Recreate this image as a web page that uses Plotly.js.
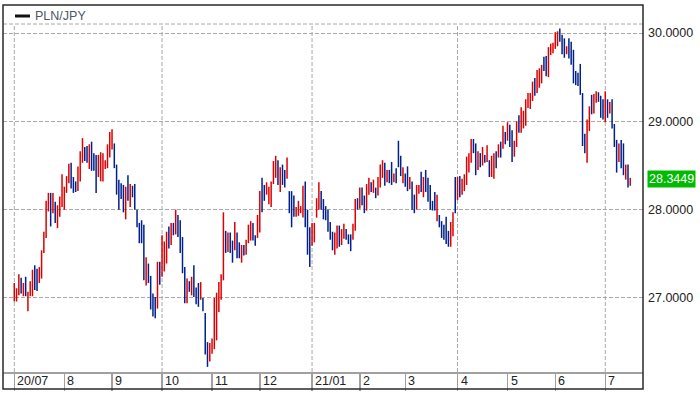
<!DOCTYPE html>
<html><head><meta charset="utf-8">
<script src="https://cdn.plot.ly/plotly-3.0.1.min.js"></script>
<style>html,body{margin:0;padding:0;background:#fff}#chart{width:700px;height:395px}</style>
</head><body><div id="chart"></div>
<script>
const symbol = 'PLN/JPY';
const monthLabels = ['20/07','8','9','10','11','12','21/01','2','3','4','5','6','7'];
const gridMonthIdx = [0, 3, 6, 9, 12];
const yTicks = [27, 28, 29, 30];
const lastPrice = 28.3449;
const high = [
27.17,27.11,27.27,27.23,27.17,27.24,27.07,27.19,27.32,27.37,
27.33,27.35,27.54,27.75,28.10,28.19,28.19,28.19,28.09,28.05,
28.15,28.40,28.26,28.38,28.52,28.53,28.37,28.32,28.49,28.66,
28.81,28.71,28.72,28.74,28.77,28.64,28.62,28.62,28.65,28.64,
28.56,28.74,28.88,28.91,28.75,28.51,28.34,28.30,28.28,28.26,
28.39,28.29,28.27,28.29,28.00,27.85,27.88,27.83,27.46,27.39,
27.25,27.05,27.01,27.41,27.41,27.71,27.64,27.75,27.81,27.85,
27.85,28.00,27.94,27.88,27.69,27.35,27.22,27.19,27.24,27.37,
27.12,27.17,27.18,27.00,26.83,26.50,26.49,26.54,27.00,27.06,
27.18,27.27,27.97,27.76,27.74,27.74,27.65,27.86,27.74,27.63,
27.60,27.60,27.66,27.83,27.87,27.85,27.71,27.94,28.21,28.36,
28.28,28.31,28.26,28.32,28.55,28.61,28.56,28.48,28.51,28.45,
28.59,28.21,28.21,28.16,28.03,28.10,28.04,28.27,28.32,28.00,
27.80,27.85,27.85,28.13,28.31,28.21,28.12,28.04,28.00,27.86,
27.75,27.74,27.82,27.82,27.78,27.84,27.78,27.72,27.72,27.84,
28.12,28.13,28.25,28.25,28.16,28.29,28.36,28.31,28.34,28.25,
28.37,28.51,28.56,28.53,28.45,28.45,28.54,28.41,28.47,28.78,
28.61,28.48,28.41,28.49,28.37,28.32,28.17,28.28,28.28,28.43,
28.37,28.45,28.36,28.28,28.10,28.20,28.17,27.94,27.87,27.83,
27.92,27.76,27.86,27.97,28.37,28.37,28.38,28.35,28.40,28.60,
28.64,28.80,28.80,28.75,28.66,28.64,28.71,28.62,28.73,28.56,
28.61,28.64,28.66,28.74,28.77,28.95,28.88,28.99,28.96,28.90,
28.78,29.00,29.07,29.16,29.12,29.25,29.32,29.32,29.45,29.49,
29.58,29.60,29.64,29.73,29.74,29.84,29.88,29.89,30.01,30.02,
30.05,29.98,29.94,29.85,29.94,29.90,29.81,29.57,29.55,29.65,
29.32,28.86,29.02,29.17,29.30,29.31,29.34,29.33,29.29,29.25,
29.34,29.25,29.22,29.25,28.97,28.79,28.75,28.79,28.75,28.51,
28.51,28.36];
const low = [
26.96,26.96,27.03,27.05,27.02,27.02,26.85,27.02,27.02,27.09,
27.08,27.17,27.22,27.51,27.68,27.98,27.81,27.96,27.85,27.79,
27.92,28.03,28.00,28.19,28.30,28.24,28.19,28.20,28.21,28.32,
28.53,28.55,28.53,28.46,28.44,28.44,28.19,28.37,28.32,28.32,
28.46,28.47,28.59,28.68,28.47,28.17,28.00,28.12,27.97,27.89,
28.10,28.03,28.14,28.00,27.80,27.62,27.62,27.20,27.14,27.17,
26.87,26.79,26.77,26.88,27.15,27.24,27.30,27.39,27.56,27.60,
27.71,27.72,27.69,27.51,27.28,26.94,26.94,27.07,27.03,27.01,
26.93,26.90,26.98,26.85,26.36,26.22,26.28,26.37,26.42,26.52,
26.84,26.98,27.20,27.51,27.52,27.51,27.40,27.54,27.45,27.45,
27.40,27.48,27.49,27.62,27.65,27.65,27.59,27.68,27.74,27.97,
28.10,28.17,28.06,28.03,28.29,28.36,28.28,28.20,28.28,28.25,
28.35,27.96,27.80,27.92,27.92,27.93,27.96,27.91,27.80,27.49,
27.35,27.59,27.63,27.91,28.00,28.00,27.89,27.88,27.75,27.66,
27.54,27.49,27.56,27.58,27.60,27.67,27.66,27.61,27.53,27.66,
27.76,28.00,28.01,28.05,27.96,27.99,28.17,28.20,28.19,28.13,
28.16,28.25,28.36,28.27,28.31,28.30,28.28,28.31,28.30,28.48,
28.38,28.30,28.26,28.21,28.23,28.00,27.96,28.00,28.18,28.20,
28.14,28.20,28.09,28.00,27.99,27.99,27.87,27.80,27.68,27.66,
27.61,27.58,27.58,27.70,27.96,28.11,28.14,28.17,28.21,28.28,
28.42,28.53,28.64,28.39,28.45,28.48,28.50,28.53,28.54,28.37,
28.37,28.35,28.47,28.59,28.59,28.69,28.74,28.78,28.71,28.54,
28.60,28.71,28.87,28.87,28.92,28.95,29.15,29.14,29.23,29.29,
29.32,29.38,29.43,29.57,29.51,29.50,29.75,29.77,29.82,29.85,
29.90,29.76,29.72,29.76,29.71,29.64,29.43,29.41,29.40,29.30,
28.72,28.64,28.53,28.89,29.08,29.09,29.21,29.22,29.04,29.02,
28.99,29.04,29.09,28.92,28.71,28.42,28.54,28.47,28.39,28.34,
28.25,28.27];
// r = bar closed up (red), b = bar closed down (blue)
const direction =
'rrrbrbrrrb'+'brrrrrbrbr'+'rrrrrbbbrr'+'rbbrbbbrrr'+'rrrrbbbbbr'+
'brbbbbbbrb'+'bbbrbrrrbr'+'brbbbbrbrb'+'bbrbbbrrrr'+'rrrbrbbrbb'+
'rbrrrbbrrb'+'brrrrrbrbb'+'rbbbrrrrbb'+'brrrrbbbbb'+'brrbrrbbbr'+
'rbrbbrrbrb'+'rrrbrbbrbb'+'brbbrbbrrb'+'rbbbbbrbbb'+'bbrrbrbrrr'+
'rrbbrbrbrb'+'rrbrbrbrbb'+'rrbrrrrrrb'+'rrrbbrrrrr'+'bbbrbbbbbb'+
'bbrrbrrbbb'+'rbrbbbrbbr'+'br';

// trading days (weekdays) from 2020-07-02
const dates = [];
const d = new Date(Date.UTC(2020, 6, 2));
while (dates.length < high.length) {
  const wd = d.getUTCDay();
  if (wd !== 0 && wd !== 6) dates.push(d.toISOString().slice(0, 10));
  d.setUTCDate(d.getUTCDate() + 1);
}
const up = direction.split('').map(c => c === 'r');
const open = high.map((h, i) => up[i] ? low[i] : h);
const close = high.map((h, i) => up[i] ? h : low[i]);

const monthStarts = [];
dates.forEach((s, i) => { if (i === 0 || s.slice(0, 7) !== dates[i - 1].slice(0, 7)) monthStarts.push(s); });

const W = 700, H = 395, L = 3, R = 57, T = 24, B = 23;
const ph = H - T - B;
const FONT = 'Liberation Sans, Arial, sans-serif';
const GRID = '#a8a8a8';

const shapes = [];
gridMonthIdx.forEach(k => shapes.push({
  type: 'line', xref: 'x', yref: 'paper', x0: monthStarts[k], x1: monthStarts[k], y0: 0, y1: 1,
  line: {color: GRID, width: 1, dash: '4px,2px'}, layer: 'below'
}));
shapes.push({type: 'line', xref: 'paper', yref: 'paper', x0: 0, x1: 1, y0: 1, y1: 1,
  line: {color: GRID, width: 1, dash: '4px,2px'}, layer: 'below'});
shapes.push({type: 'rect', xref: 'paper', yref: 'paper', x0: 0, x1: 1,
  y0: -17 / ph, y1: 1 + 19 / ph,
  line: {color: '#2a2a2a', width: 1.5}, fillcolor: 'rgba(0,0,0,0)', layer: 'above'});
shapes.push({type: 'line', xref: 'paper', yref: 'paper', x0: 12 / 640, x1: 27 / 640,
  y0: 1 + 8 / ph, y1: 1 + 8 / ph, line: {color: '#111', width: 3}});

const annotations = monthStarts.map((s, k) => ({
  x: s, xref: 'x', xanchor: 'left', xshift: 1,
  y: -8.5 / ph, yref: 'paper', yanchor: 'middle',
  text: monthLabels[k], showarrow: false, font: {family: FONT, size: 12.5, color: '#222'}
}));
annotations.push({x: 30 / 640, xref: 'paper', xanchor: 'left', y: 1 + 8 / ph, yref: 'paper',
  yanchor: 'middle', text: symbol, showarrow: false, font: {family: FONT, size: 12.5, color: '#4d5566'}});
annotations.push({x: 1, xref: 'paper', xanchor: 'left', xshift: 4, y: lastPrice, yref: 'y',
  yanchor: 'middle', text: lastPrice.toFixed(4), showarrow: false, bgcolor: '#00bb00',
  borderpad: 1, font: {family: FONT, size: 12.5, color: '#ffffff'}});

const trace = {
  type: 'ohlc', x: dates, open: open, high: high, low: low, close: close,
  tickwidth: 0, hoverinfo: 'none',
  increasing: {line: {color: '#dd0000', width: 1.5}},
  decreasing: {line: {color: '#00208c', width: 1.5}}
};

const layout = {
  width: W, height: H, margin: {l: L, r: R, t: T, b: B, pad: 0},
  paper_bgcolor: '#fff', plot_bgcolor: '#fff', showlegend: false,
  font: {family: FONT, size: 12.5, color: '#222'},
  xaxis: {type: 'category', range: [-4.97, 276.6], tickvals: monthStarts, ticks: 'outside',
    ticklen: 17, tickwidth: 1.5, tickcolor: '#a0a0a0', showticklabels: false, showgrid: false,
    showline: true, linecolor: '#a0a0a0', linewidth: 1.5, zeroline: false,
    rangeslider: {visible: false}, fixedrange: true},
  yaxis: {side: 'right', range: [26.162, 30.102], tickvals: yTicks,
    ticktext: yTicks.map(v => v.toFixed(4)), ticks: '', showgrid: true, gridcolor: GRID,
    griddash: '4px,2px', gridwidth: 1, zeroline: false, showline: false,
    ticklabelstandoff: 4, tickfont: {family: FONT, size: 12.5, color: '#222'}, fixedrange: true},
  shapes: shapes, annotations: annotations
};
Plotly.newPlot('chart', [trace], layout, {displayModeBar: false, staticPlot: true});
</script></body></html>
